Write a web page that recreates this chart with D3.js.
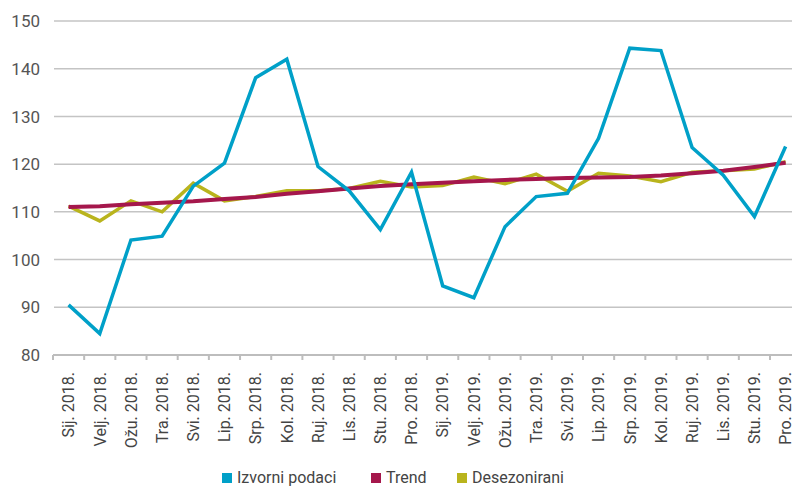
<!DOCTYPE html>
<html>
<head>
<meta charset="utf-8">
<script src="https://cdn.jsdelivr.net/npm/d3@7"></script>
<style>
  html, body { margin: 0; padding: 0; background: #fff; }
  svg { display: block; font-family: Roboto, "DejaVu Sans", sans-serif; }
</style>
</head>
<body>
<svg id="chart" width="792" height="486"></svg>
<script>
// Months, Jan 2018 – Dec 2019 (Croatian abbreviations)
const categories = [
  "Sij. 2018.", "Velj. 2018.", "Ožu. 2018.", "Tra. 2018.", "Svi. 2018.", "Lip. 2018.",
  "Srp. 2018.", "Kol. 2018.", "Ruj. 2018.", "Lis. 2018.", "Stu. 2018.", "Pro. 2018.",
  "Sij. 2019.", "Velj. 2019.", "Ožu. 2019.", "Tra. 2019.", "Svi. 2019.", "Lip. 2019.",
  "Srp. 2019.", "Kol. 2019.", "Ruj. 2019.", "Lis. 2019.", "Stu. 2019.", "Pro. 2019."
];

const izvorniPodaci = [
  90.5, 84.5, 104.1, 104.9, 115.4, 120.2, 138.1, 142.0, 119.5, 114.4, 106.3, 118.3,
  94.5, 92.0, 106.9, 113.2, 113.9, 125.4, 144.3, 143.8, 123.5, 117.7, 109.0, 123.7
];

const trend = [
  111.0, 111.2, 111.6, 111.9, 112.2, 112.7, 113.1, 113.8, 114.3, 114.9, 115.4, 115.8,
  116.1, 116.4, 116.7, 116.9, 117.1, 117.2, 117.3, 117.6, 118.1, 118.6, 119.4, 120.3
];

const desezonirani = [
  111.2, 108.1, 112.3, 110.0, 116.0, 112.3, 113.2, 114.4, 114.4, 114.9, 116.4, 115.2,
  115.5, 117.3, 115.9, 117.9, 114.3, 118.1, 117.5, 116.3, 118.3, 118.6, 119.0, 120.5
];

const yTicks = [80, 90, 100, 110, 120, 130, 140, 150];

const seriesNames = ["Izvorni podaci", "Trend", "Desezonirani"];
const seriesColors = ["#00a0c8", "#a5174c", "#b9b41d"];

const svg = d3.select("#chart");
const W = 792;

const x = d3.scaleBand().domain(categories).range([53, 801.2]).padding(0);
const y = d3.scaleLinear().domain([80, 150]).range([355, 21]);

// horizontal gridlines
svg.append("g")
  .selectAll("line")
  .data(yTicks.filter(d => d > 80))
  .join("line")
  .attr("x1", 54).attr("x2", W)
  .attr("y1", d => y(d)).attr("y2", d => y(d))
  .attr("stroke", "#c4c4c4")
  .attr("stroke-width", 1.5);

// y labels
svg.append("g")
  .selectAll("text")
  .data(yTicks)
  .join("text")
  .attr("x", 40)
  .attr("y", d => y(d))
  .attr("dy", "0.36em")
  .attr("text-anchor", "end")
  .attr("font-size", 17)
  .attr("fill", "#555")
  .text(d => d);

// x axis line and band-edge ticks
const xAxis = svg.append("g");
xAxis.append("line")
  .attr("x1", 53).attr("x2", W)
  .attr("y1", y(80)).attr("y2", y(80))
  .attr("stroke", "#bdbdbd").attr("stroke-width", 2);
xAxis.selectAll("line.tick")
  .data(categories)
  .join("line")
  .attr("class", "tick")
  .attr("x1", d => x(d)).attr("x2", d => x(d))
  .attr("y1", y(80)).attr("y2", y(80) + 5)
  .attr("stroke", "#bdbdbd").attr("stroke-width", 2);

// rotated month labels
xAxis.selectAll("text")
  .data(categories)
  .join("text")
  .attr("transform", d => `translate(${x(d) + x.bandwidth() / 2},${y(80) + 17}) rotate(-90)`)
  .attr("dy", "0.36em")
  .attr("text-anchor", "end")
  .attr("font-size", 16)
  .attr("fill", "#444")
  .text(d => d);

// series lines
const line = d3.line()
  .x((d, i) => x(categories[i]) + x.bandwidth() / 2)
  .y(d => y(d));

const drawOrder = [
  { values: desezonirani, color: seriesColors[2], width: 3.5 },
  { values: trend, color: seriesColors[1], width: 4 },
  { values: izvorniPodaci, color: seriesColors[0], width: 3.5 }
];

svg.append("g")
  .selectAll("path")
  .data(drawOrder)
  .join("path")
  .attr("d", d => line(d.values))
  .attr("fill", "none")
  .attr("stroke", d => d.color)
  .attr("stroke-width", d => d.width)
  .attr("stroke-linejoin", "miter")
  .attr("stroke-linecap", "butt");

// legend
const legendX = [222, 371, 457];
const legend = svg.append("g");
const items = legend.selectAll("g")
  .data(seriesNames)
  .join("g")
  .attr("transform", (d, i) => `translate(${legendX[i]},0)`);
items.append("rect")
  .attr("x", 0).attr("y", 473)
  .attr("width", 10).attr("height", 10)
  .attr("fill", (d, i) => seriesColors[i]);
items.append("text")
  .attr("x", 15).attr("y", 483)
  .attr("font-size", 16)
  .attr("fill", "#444")
  .text(d => d);
</script>
</body>
</html>
